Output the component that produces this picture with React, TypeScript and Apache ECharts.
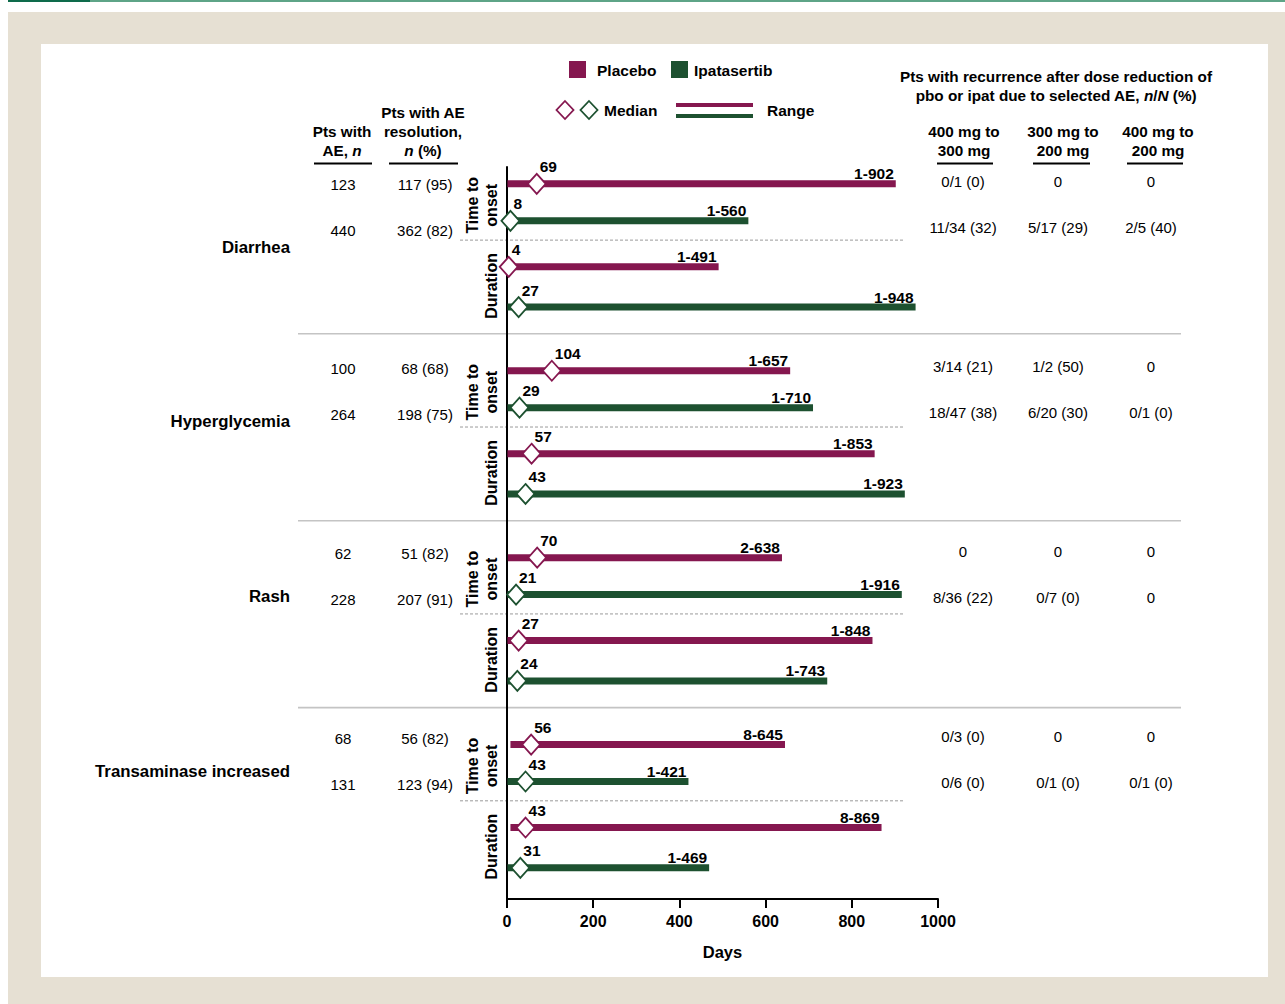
import React, { useEffect, useRef } from 'react';
import * as echarts from 'echarts';

const FONT = '"Liberation Sans", Arial, Helvetica, sans-serif';
const PLACEBO = '#85174f';
const IPAT = '#1d5130';

// ---- data ----
const categories = ['Diarrhea', 'Hyperglycemia', 'Rash', 'Transaminase increased'];
const xTicks = [0, 200, 400, 600, 800, 1000];

const placeboOnsetMedian = [69, 104, 70, 56];
const placeboOnsetRange = [[1, 902], [1, 657], [2, 638], [8, 645]];
const ipatOnsetMedian = [8, 29, 21, 43];
const ipatOnsetRange = [[1, 560], [1, 710], [1, 916], [1, 421]];
const placeboDurMedian = [4, 57, 27, 43];
const placeboDurRange = [[1, 491], [1, 853], [1, 848], [8, 869]];
const ipatDurMedian = [27, 43, 24, 31];
const ipatDurRange = [[1, 948], [1, 923], [1, 743], [1, 469]];

const ptsAEPlacebo = ['123', '100', '62', '68'];
const ptsAEIpat = ['440', '264', '228', '131'];
const resolvedPlacebo = ['117 (95)', '68 (68)', '51 (82)', '56 (82)'];
const resolvedIpat = ['362 (82)', '198 (75)', '207 (91)', '123 (94)'];

const recurrenceHeaders = [['400 mg to', '300 mg'], ['300 mg to', '200 mg'], ['400 mg to', '200 mg']];
const recurrencePlacebo = [
  ['0/1 (0)', '0', '0'],
  ['3/14 (21)', '1/2 (50)', '0'],
  ['0', '0', '0'],
  ['0/3 (0)', '0', '0'],
];
const recurrenceIpat = [
  ['11/34 (32)', '5/17 (29)', '2/5 (40)'],
  ['18/47 (38)', '6/20 (30)', '0/1 (0)'],
  ['8/36 (22)', '0/7 (0)', '0'],
  ['0/6 (0)', '0/1 (0)', '0/1 (0)'],
];

// ---- layout constants ----
const GRID = { left: 507, top: 167, width: 431, height: 732 };
const Y_MIN = -0.41;
const Y_MAX = 17.41;
const GROUP_STEP = 4.55;
const ROW_OFFSETS = [0, 0.9, 2.02, 3.0]; // placebo onset, ipat onset, placebo dur, ipat dur
const yPx = (v: number) => GRID.top + ((v - Y_MIN) / (Y_MAX - Y_MIN)) * GRID.height;

function buildSeriesData(onsetR: number[][], onsetM: number[], durR: number[][], durM: number[], onsetRow: number, durRow: number) {
  const out: number[][] = [];
  categories.forEach((_, g) => {
    out.push([onsetR[g][0], onsetR[g][1], onsetM[g], g * GROUP_STEP + ROW_OFFSETS[onsetRow]]);
    out.push([durR[g][0], durR[g][1], durM[g], g * GROUP_STEP + ROW_OFFSETS[durRow]]);
  });
  return out;
}

const txt = (text: string, x: number, y: number, opts: any = {}) => ({
  type: 'text',
  x,
  y,
  rotation: opts.rotation || 0,
  silent: true,
  style: {
    text,
    fill: '#000',
    font: `${opts.bold ? 'bold ' : ''}${opts.size || 15}px ${FONT}`,
    align: opts.align || 'center',
    textAlign: opts.align || 'center',
    verticalAlign: 'middle',
    textVerticalAlign: 'middle',
    lineHeight: opts.lineHeight || 19,
    rich: opts.rich,
  },
});

const diamond = (cx: number, cy: number, hw: number, hh: number, color: string) => ({
  type: 'polygon',
  shape: { points: [[cx, cy - hh], [cx + hw, cy], [cx, cy + hh], [cx - hw, cy]] },
  style: { fill: '#fff', stroke: color, lineWidth: 1.8 },
});

const hline = (x1: number, x2: number, y: number, color: string, width: number, dash?: number[]) => ({
  type: 'line',
  shape: { x1, y1: y, x2, y2: y },
  style: { stroke: color, lineWidth: width, lineDash: dash },
  silent: true,
});

function makeRenderItem(color: string) {
  return (params: any, api: any) => {
    const s = api.value(0);
    const e = api.value(1);
    const m = api.value(2);
    const r = api.value(3);
    const p0 = api.coord([s, r]);
    const p1 = api.coord([e, r]);
    const pm = api.coord([m, r]);
    const h = 7;
    return {
      type: 'group',
      children: [
        { type: 'rect', shape: { x: p0[0], y: p0[1] - h / 2, width: p1[0] - p0[0], height: h }, style: { fill: color } },
        {
          type: 'text', x: p1[0] - 2, y: p0[1] - 10,
          style: { text: `${s}-${e}`, fill: '#000', font: `bold 15.5px ${FONT}`, align: 'right', textAlign: 'right', verticalAlign: 'middle', textVerticalAlign: 'middle' },
        },
        diamond(pm[0], pm[1], 9, 10, color),
        {
          type: 'text', x: pm[0] + 3, y: pm[1] - 17,
          style: { text: String(m), fill: '#000', font: `bold 15.5px ${FONT}`, align: 'left', textAlign: 'left', verticalAlign: 'middle', textVerticalAlign: 'middle' },
        },
      ],
    };
  };
}

function buildGraphic() {
  const els: any[] = [];
  // legend
  els.push({ type: 'rect', shape: { x: 569, y: 61, width: 17, height: 17 }, style: { fill: PLACEBO } });
  els.push(txt('Placebo', 597, 70, { bold: true, align: 'left', size: 15.5 }));
  els.push({ type: 'rect', shape: { x: 671, y: 61, width: 17, height: 17 }, style: { fill: IPAT } });
  els.push(txt('Ipatasertib', 694, 70, { bold: true, align: 'left', size: 15.5 }));
  els.push(diamond(565, 110, 8.5, 9, PLACEBO));
  els.push(diamond(589, 110, 8.5, 9, IPAT));
  els.push(txt('Median', 604, 110, { bold: true, align: 'left', size: 15.5 }));
  els.push({ type: 'rect', shape: { x: 676, y: 103, width: 77, height: 4 }, style: { fill: PLACEBO } });
  els.push({ type: 'rect', shape: { x: 676, y: 114, width: 77, height: 4 }, style: { fill: IPAT } });
  els.push(txt('Range', 767, 110, { bold: true, align: 'left', size: 15.5 }));

  // left headers
  const italic = { i: { fontStyle: 'italic', fontWeight: 'bold', fontSize: 15.3, fontFamily: FONT, fill: '#000' } };
  const hs = 15.3;
  els.push(txt('Pts with', 342, 131, { bold: true, size: hs }));
  els.push(txt('AE, {i|n}', 342, 150, { bold: true, rich: italic, size: hs }));
  els.push(txt('Pts with AE', 423, 112, { bold: true, size: hs }));
  els.push(txt('resolution,', 423, 131, { bold: true, size: hs }));
  els.push(txt('{i|n} (%)', 423, 150, { bold: true, rich: italic, size: hs }));
  els.push(hline(314, 372, 163.5, '#000', 2));
  els.push(hline(389, 458, 163.5, '#000', 2));

  // right headers
  els.push(txt('Pts with recurrence after dose reduction of', 1056, 76, { bold: true, size: hs }));
  els.push(txt('pbo or ipat due to selected AE, {i|n}/{i|N} (%)', 1056, 95, { bold: true, rich: italic, size: hs }));
  const hdrX = [964, 1063, 1158];
  const valX = [963, 1058, 1151];
  const ulines = [[937, 993], [1033, 1090], [1127, 1183]];
  recurrenceHeaders.forEach((h, i) => {
    els.push(txt(h[0], hdrX[i], 131, { bold: true, size: hs }));
    els.push(txt(h[1], hdrX[i], 150, { bold: true, size: hs }));
    els.push(hline(ulines[i][0], ulines[i][1], 163.5, '#000', 2));
  });

  categories.forEach((cat, g) => {
    const base = g * GROUP_STEP;
    const r = ROW_OFFSETS.map((o) => yPx(base + o));
    // category label
    els.push(txt(cat, 290, 247 + g * 174.7, { bold: true, size: 16.8, align: 'right' }));
    // left table
    const ly = 184 + g * 184.7;
    els.push(txt(ptsAEPlacebo[g], 343, ly));
    els.push(txt(resolvedPlacebo[g], 425, ly));
    els.push(txt(ptsAEIpat[g], 343, ly + 46));
    els.push(txt(resolvedIpat[g], 425, ly + 46));
    // right table
    const ry = 181 + g * 185.3;
    valX.forEach((x, i) => {
      els.push(txt(recurrencePlacebo[g][i], x, ry));
      els.push(txt(recurrenceIpat[g][i], x, ry + 46));
    });
    // rotated phase labels
    els.push(txt('Time to\nonset', 482, (r[0] + r[1]) / 2 + 3, { bold: true, size: 16, rotation: Math.PI / 2, lineHeight: 19 }));
    els.push(txt('Duration', 491, (r[2] + r[3]) / 2 - 1, { bold: true, size: 16, rotation: Math.PI / 2 }));
    // dashed separator
    els.push(hline(460, 903, yPx(base + 1.37), '#9a9a9a', 1, [3, 2]));
    if (g < categories.length - 1) {
      els.push(hline(298, 1181, yPx(base + 3.65), '#c4c4c4', 1.6));
    }
  });
  return els;
}

export default function App() {
  const ref = useRef<HTMLDivElement>(null);
  useEffect(() => {
    document.body.style.margin = '0';
    document.body.style.overflow = 'hidden';
    if (!ref.current) return;
    const chart = echarts.init(ref.current, undefined, { renderer: 'svg' });
    const option: any = {
      animation: false,
      backgroundColor: 'transparent',
      textStyle: { fontFamily: FONT },
      grid: { left: GRID.left, top: GRID.top, width: GRID.width, height: GRID.height, containLabel: false },
      xAxis: {
        type: 'value',
        min: xTicks[0],
        max: xTicks[xTicks.length - 1],
        interval: xTicks[1] - xTicks[0],
        axisLine: { show: true, onZero: false, lineStyle: { color: '#000', width: 2 } },
        axisTick: { show: true, length: 9, lineStyle: { color: '#000', width: 2 } },
        axisLabel: { color: '#000', fontWeight: 'bold', fontSize: 16, margin: 14, fontFamily: FONT, formatter: (v: number) => String(v) },
        splitLine: { show: false },
        name: 'Days',
        nameLocation: 'middle',
        nameGap: 44,
        nameTextStyle: { color: '#000', fontWeight: 'bold', fontSize: 16.5, fontFamily: FONT },
      },
      yAxis: {
        type: 'value',
        inverse: true,
        min: Y_MIN,
        max: Y_MAX,
        axisLine: { show: true, onZero: false, lineStyle: { color: '#000', width: 2 } },
        axisTick: { show: false },
        axisLabel: { show: false },
        splitLine: { show: false },
      },
      series: [
        {
          type: 'custom',
          name: 'Placebo',
          renderItem: makeRenderItem(PLACEBO),
          encode: { x: [0, 1, 2], y: 3 },
          data: buildSeriesData(placeboOnsetRange, placeboOnsetMedian, placeboDurRange, placeboDurMedian, 0, 2),
          clip: false,
          z: 3,
        },
        {
          type: 'custom',
          name: 'Ipatasertib',
          renderItem: makeRenderItem(IPAT),
          encode: { x: [0, 1, 2], y: 3 },
          data: buildSeriesData(ipatOnsetRange, ipatOnsetMedian, ipatDurRange, ipatDurMedian, 1, 3),
          clip: false,
          z: 3,
        },
      ],
      graphic: buildGraphic(),
    };
    chart.setOption(option);
    return () => chart.dispose();
  }, []);

  return (
    <div style={{ position: 'absolute', left: 0, top: 0, width: 1285, height: 1004, background: '#fff', overflow: 'hidden' }}>
      <div style={{ position: 'absolute', left: 8, top: 0, width: 82, height: 2, background: '#0e6b4b' }} />
      <div style={{ position: 'absolute', left: 90, top: 0, width: 1195, height: 2, background: '#5ea487' }} />
      <div style={{ position: 'absolute', left: 8, top: 12, width: 1277, height: 992, background: '#e6e0d3' }} />
      <div style={{ position: 'absolute', left: 41, top: 44, width: 1227, height: 933, background: '#fff' }} />
      <div ref={ref} style={{ position: 'absolute', left: 0, top: 0, width: 1285, height: 1004 }} />
    </div>
  );
}
